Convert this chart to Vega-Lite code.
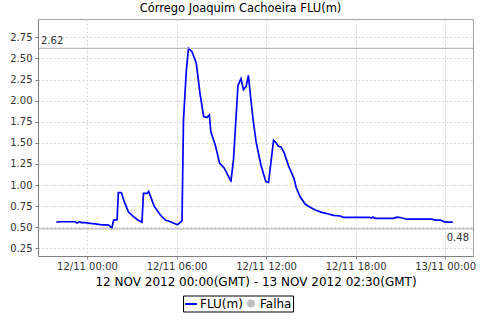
{
  "$schema": "https://vega.github.io/schema/vega-lite/v6.json",
  "autosize": "none",
  "width": 435,
  "height": 237,
  "padding": {"left": 38, "top": 19, "right": 7, "bottom": 64},
  "background": "white",
  "title": {"text": "Córrego Joaquim Cachoeira FLU(m)", "font": "DejaVu Sans", "fontSize": 11.5, "fontWeight": "normal", "color": "#000", "anchor": "middle", "frame": "group", "dx": -15, "offset": -4, "baseline": "alphabetic"},
  "config": {
    "view": {"stroke": "#a0a0a0", "strokeWidth": 1},
    "font": "DejaVu Sans",
    "axis": {"labelOverlap": false, "labelFlush": false}
  },
  "datasets": {
    "flu": [
      {"t": "2012-11-11T21:57:00Z", "v": 0.56},
      {"t": "2012-11-11T22:13:00Z", "v": 0.565},
      {"t": "2012-11-11T22:45:00Z", "v": 0.565},
      {"t": "2012-11-11T23:13:00Z", "v": 0.565},
      {"t": "2012-11-11T23:20:00Z", "v": 0.55},
      {"t": "2012-11-11T23:30:00Z", "v": 0.565},
      {"t": "2012-11-11T23:37:00Z", "v": 0.555},
      {"t": "2012-11-11T23:53:00Z", "v": 0.555},
      {"t": "2012-11-12T00:13:00Z", "v": 0.545},
      {"t": "2012-11-12T00:33:00Z", "v": 0.54},
      {"t": "2012-11-12T00:53:00Z", "v": 0.53},
      {"t": "2012-11-12T01:27:00Z", "v": 0.525},
      {"t": "2012-11-12T01:40:00Z", "v": 0.49},
      {"t": "2012-11-12T01:47:00Z", "v": 0.585},
      {"t": "2012-11-12T02:01:00Z", "v": 0.59},
      {"t": "2012-11-12T02:06:00Z", "v": 0.91},
      {"t": "2012-11-12T02:18:00Z", "v": 0.91},
      {"t": "2012-11-12T02:30:00Z", "v": 0.80},
      {"t": "2012-11-12T02:47:00Z", "v": 0.68},
      {"t": "2012-11-12T03:07:00Z", "v": 0.625},
      {"t": "2012-11-12T03:27:00Z", "v": 0.58},
      {"t": "2012-11-12T03:41:00Z", "v": 0.56},
      {"t": "2012-11-12T03:47:00Z", "v": 0.90},
      {"t": "2012-11-12T04:01:00Z", "v": 0.90},
      {"t": "2012-11-12T04:08:00Z", "v": 0.925},
      {"t": "2012-11-12T04:30:00Z", "v": 0.75},
      {"t": "2012-11-12T04:55:00Z", "v": 0.645},
      {"t": "2012-11-12T05:15:00Z", "v": 0.585},
      {"t": "2012-11-12T05:35:00Z", "v": 0.565},
      {"t": "2012-11-12T06:04:00Z", "v": 0.53},
      {"t": "2012-11-12T06:22:00Z", "v": 0.575},
      {"t": "2012-11-12T06:28:00Z", "v": 1.77},
      {"t": "2012-11-12T06:39:00Z", "v": 2.34},
      {"t": "2012-11-12T06:48:00Z", "v": 2.62},
      {"t": "2012-11-12T07:02:00Z", "v": 2.58},
      {"t": "2012-11-12T07:19:00Z", "v": 2.45},
      {"t": "2012-11-12T07:35:00Z", "v": 2.07},
      {"t": "2012-11-12T07:49:00Z", "v": 1.81},
      {"t": "2012-11-12T08:02:00Z", "v": 1.80},
      {"t": "2012-11-12T08:12:00Z", "v": 1.83},
      {"t": "2012-11-12T08:18:00Z", "v": 1.63},
      {"t": "2012-11-12T08:36:00Z", "v": 1.47},
      {"t": "2012-11-12T08:53:00Z", "v": 1.26},
      {"t": "2012-11-12T09:12:00Z", "v": 1.20},
      {"t": "2012-11-12T09:36:00Z", "v": 1.06},
      {"t": "2012-11-12T09:39:00Z", "v": 1.05},
      {"t": "2012-11-12T09:49:00Z", "v": 1.30},
      {"t": "2012-11-12T10:07:00Z", "v": 2.18},
      {"t": "2012-11-12T10:19:00Z", "v": 2.26},
      {"t": "2012-11-12T10:29:00Z", "v": 2.13},
      {"t": "2012-11-12T10:40:00Z", "v": 2.17},
      {"t": "2012-11-12T10:49:00Z", "v": 2.30},
      {"t": "2012-11-12T10:59:00Z", "v": 2.01},
      {"t": "2012-11-12T11:08:00Z", "v": 1.77},
      {"t": "2012-11-12T11:20:00Z", "v": 1.51},
      {"t": "2012-11-12T11:39:00Z", "v": 1.24},
      {"t": "2012-11-12T11:59:00Z", "v": 1.04},
      {"t": "2012-11-12T12:10:00Z", "v": 1.03},
      {"t": "2012-11-12T12:30:00Z", "v": 1.53},
      {"t": "2012-11-12T12:40:00Z", "v": 1.50},
      {"t": "2012-11-12T12:50:00Z", "v": 1.46},
      {"t": "2012-11-12T13:00:00Z", "v": 1.45},
      {"t": "2012-11-12T13:13:00Z", "v": 1.38},
      {"t": "2012-11-12T13:30:00Z", "v": 1.23},
      {"t": "2012-11-12T13:46:00Z", "v": 1.12},
      {"t": "2012-11-12T13:53:00Z", "v": 1.07},
      {"t": "2012-11-12T14:01:00Z", "v": 0.97},
      {"t": "2012-11-12T14:17:00Z", "v": 0.86},
      {"t": "2012-11-12T14:37:00Z", "v": 0.775},
      {"t": "2012-11-12T14:57:00Z", "v": 0.736},
      {"t": "2012-11-12T15:18:00Z", "v": 0.704},
      {"t": "2012-11-12T15:44:00Z", "v": 0.676},
      {"t": "2012-11-12T16:11:00Z", "v": 0.657},
      {"t": "2012-11-12T16:31:00Z", "v": 0.641},
      {"t": "2012-11-12T16:58:00Z", "v": 0.633},
      {"t": "2012-11-12T17:11:00Z", "v": 0.617},
      {"t": "2012-11-12T18:52:00Z", "v": 0.617},
      {"t": "2012-11-12T19:05:00Z", "v": 0.61},
      {"t": "2012-11-12T19:09:00Z", "v": 0.62},
      {"t": "2012-11-12T19:19:00Z", "v": 0.605},
      {"t": "2012-11-12T20:32:00Z", "v": 0.605},
      {"t": "2012-11-12T20:46:00Z", "v": 0.62},
      {"t": "2012-11-12T20:59:00Z", "v": 0.615},
      {"t": "2012-11-12T21:26:00Z", "v": 0.595},
      {"t": "2012-11-12T23:07:00Z", "v": 0.595},
      {"t": "2012-11-12T23:20:00Z", "v": 0.585},
      {"t": "2012-11-12T23:40:00Z", "v": 0.585},
      {"t": "2012-11-13T00:00:00Z", "v": 0.56},
      {"t": "2012-11-13T00:31:00Z", "v": 0.56}
    ],
    "refs": [
      {"v": 2.62, "label": "2.62"},
      {"v": 0.48, "label": "0.48"}
    ]
  },
  "layer": [
    {
      "data": {"name": "flu"},
      "mark": {"type": "line", "strokeWidth": 1.7, "clip": true},
      "encoding": {
        "x": {
          "field": "t", "type": "temporal",
          "scale": {"type": "utc", "domain": [
            {"year": 2012, "month": 11, "date": 11, "hours": 20, "minutes": 43, "utc": true},
            {"year": 2012, "month": 11, "date": 13, "hours": 1, "minutes": 52, "utc": true}
          ], "nice": false},
          "axis": {
            "values": [
              {"year": 2012, "month": 11, "date": 12, "hours": 0, "utc": true},
              {"year": 2012, "month": 11, "date": 12, "hours": 6, "utc": true},
              {"year": 2012, "month": 11, "date": 12, "hours": 12, "utc": true},
              {"year": 2012, "month": 11, "date": 12, "hours": 18, "utc": true},
              {"year": 2012, "month": 11, "date": 13, "hours": 0, "utc": true}
            ],
            "tickCount": 10,
            "format": "%d/%m %H:%M",
            "labelFont": "DejaVu Sans", "labelFontSize": 10, "labelColor": "#333", "labelPadding": 2,
            "labelFlush": false, "labelOverlap": false,
            "tickSize": 3, "tickColor": "#808080", "domainColor": "#808080",
            "grid": true, "gridColor": "#d4d4d4", "gridDash": [2, 2],
            "title": "12 NOV 2012 00:00(GMT) - 13 NOV 2012 02:30(GMT)",
            "titleFont": "DejaVu Sans", "titleFontSize": 12, "titleFontWeight": "normal", "titleColor": "#000", "titlePadding": 5
          }
        },
        "y": {
          "field": "v", "type": "quantitative",
          "scale": {"domain": [0.159, 2.967], "nice": false, "zero": false},
          "axis": {
            "values": [0.25, 0.5, 0.75, 1.0, 1.25, 1.5, 1.75, 2.0, 2.25, 2.5, 2.75],
            "tickCount": 20,
            "format": ".2f", "labelOverlap": false,
            "labelFont": "DejaVu Sans", "labelFontSize": 10, "labelColor": "#333", "labelPadding": 3,
            "tickSize": 3, "tickColor": "#808080", "domainColor": "#808080",
            "grid": true, "gridColor": "#d4d4d4", "gridDash": [2, 2],
            "title": null
          }
        },
        "color": {
          "datum": "FLU(m)",
          "scale": {"domain": ["FLU(m)", "Falha"], "range": ["#0000ff", "#c0c0c0"]},
          "legend": {
            "orient": "none", "legendX": 145, "legendY": 276.5,
            "direction": "horizontal", "title": null,
            "strokeColor": "#000", "padding": 1,
            "symbolType": "stroke", "symbolSize": 144, "symbolStrokeWidth": 2,
            "labelFont": "DejaVu Sans", "labelFontSize": 12, "labelColor": "#000", "labelOffset": 2,
            "columnPadding": 1,
            "encode": {
              "symbols": {
                "update": {
                  "shape": {"signal": "datum.value === 'Falha' ? 'circle' : 'stroke'"},
                  "size": {"signal": "datum.value === 'Falha' ? 36 : 144"},
                  "fill": {"signal": "datum.value === 'Falha' ? '#c0c0c0' : 'transparent'"},
                  "stroke": {"signal": "datum.value === 'Falha' ? 'transparent' : '#0000ff'"}
                }
              }
            }
          }
        }
      }
    },
    {
      "data": {"name": "refs"},
      "mark": {"type": "rule", "color": "#a8a8a8", "strokeWidth": 1},
      "encoding": {
        "y": {"field": "v", "type": "quantitative"}
      }
    },
    {
      "data": {"name": "refs"},
      "transform": [{"filter": "datum.v > 1"}],
      "mark": {"type": "text", "align": "left", "baseline": "alphabetic", "dx": 3, "dy": -4, "font": "DejaVu Sans", "fontSize": 10, "color": "#333"},
      "encoding": {
        "x": {"datum": {"year": 2012, "month": 11, "date": 11, "hours": 20, "minutes": 43, "utc": true}, "type": "temporal"},
        "y": {"field": "v", "type": "quantitative"},
        "text": {"field": "label"}
      }
    },
    {
      "data": {"name": "refs"},
      "transform": [{"filter": "datum.v < 1"}],
      "mark": {"type": "text", "align": "right", "baseline": "top", "dx": -4, "dy": 4, "font": "DejaVu Sans", "fontSize": 10, "color": "#333"},
      "encoding": {
        "x": {"datum": {"year": 2012, "month": 11, "date": 13, "hours": 1, "minutes": 52, "utc": true}, "type": "temporal"},
        "y": {"field": "v", "type": "quantitative"},
        "text": {"field": "label"}
      }
    }
  ]
}
